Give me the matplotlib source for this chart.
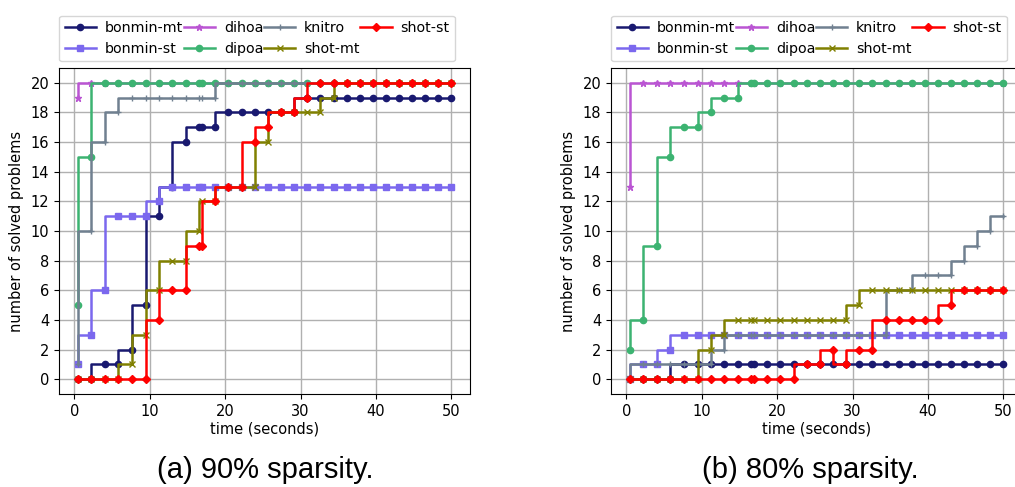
import matplotlib
matplotlib.use('Agg')
import matplotlib.pyplot as plt

# common time grid (seconds) where the solved counts are sampled
times = [0.45, 2.25, 4.05, 5.85, 7.65, 9.45, 11.2, 13.0, 14.8, 16.6, 16.95, 18.7,
         20.45, 22.2, 23.95, 25.7, 27.4, 29.15, 30.9, 32.65, 34.4, 36.1, 37.85,
         39.6, 41.35, 43.05, 44.8, 46.55, 48.3, 50.0]

solvers = ['bonmin-mt', 'bonmin-st', 'dihoa', 'dipoa', 'knitro', 'shot-mt', 'shot-st']

# 90% sparsity
s90_bonmin_mt = [0, 0, 1, 1, 2, 5, 11, 13, 16, 17, 17, 17, 18, 18, 18, 18, 18, 18, 19,
                 19, 19, 19, 19, 19, 19, 19, 19, 19, 19, 19]
s90_bonmin_st = [1, 3, 6, 11, 11, 11, 12] + [13] * 23
s90_dihoa = [19] + [20] * 29
s90_dipoa = [5, 15] + [20] * 28
s90_knitro = [1, 10, 16, 18, 19, 19, 19, 19, 19, 19, 19, 19] + [20] * 18
s90_shot_mt = [0, 0, 0, 0, 1, 3, 6, 8, 8, 10, 12, 12, 13, 13, 13, 16, 18, 18, 18, 18,
               19] + [20] * 9
s90_shot_st = [0, 0, 0, 0, 0, 0, 4, 6, 6, 9, 9, 12, 13, 13, 16, 17, 18, 18, 19] + [20] * 11

# 80% sparsity
s80_bonmin_mt = [0, 0, 0, 0] + [1] * 26
s80_bonmin_st = [0, 1, 1, 2] + [3] * 26
s80_dihoa = [13] + [20] * 29
s80_dipoa = [2, 4, 9, 15, 17, 17, 18, 19, 19] + [20] * 21
s80_knitro = [0, 1, 1, 1, 1, 1, 1, 2] + [3] * 13 + [6, 6, 7, 7, 7, 8, 9, 10, 11]
s80_shot_mt = [0, 0, 0, 0, 0, 0, 2, 3] + [4] * 10 + [5] + [6] * 11
s80_shot_st = [0] * 14 + [1, 1, 2, 1, 2, 2, 4, 4, 4, 4, 4, 5, 6, 6, 6, 6]

styles = {
    'bonmin-mt': dict(color='midnightblue', marker='o', ms=4.5),
    'bonmin-st': dict(color='mediumslateblue', marker='s', ms=4.5),
    'dihoa': dict(color='mediumorchid', marker='*', ms=4.5),
    'dipoa': dict(color='mediumseagreen', marker='o', ms=4.5),
    'knitro': dict(color='slategray', marker='+', ms=5),
    'shot-mt': dict(color='olive', marker='x', ms=4),
    'shot-st': dict(color='red', marker='D', ms=4.5),
}


def plotProfile(ax, series):
    for name, ys in zip(solvers, series):
        ax.plot(times, ys, drawstyle='steps-pre', linewidth=1.8, label=name, **styles[name])
    ax.set_xticks(range(0, 51, 10))
    ax.set_yticks(range(0, 21, 2))
    ax.set_ylim(-1, 21)
    ax.tick_params(labelsize=10.5)
    ax.set_xlabel('time (seconds)', fontsize=10.5, labelpad=2)
    ax.set_ylabel('number of solved problems', fontsize=10.5, labelpad=5)
    ax.grid(True, color='#b0b0b0', linewidth=1)
    ax.set_axisbelow(True)
    ax.legend(loc='lower left', bbox_to_anchor=(0, 1.02), borderaxespad=0, ncol=4,
              fontsize=10.3, columnspacing=0.05, handlelength=2.2, handletextpad=0.6,
              labelspacing=0.45, borderpad=0.4)


fig = plt.figure(figsize=(10.15, 4.87), dpi=100)
W, H = 1015, 487
axL = fig.add_axes([59 / W, 1 - 394 / H, 411 / W, 326 / H])
axR = fig.add_axes([611 / W, 1 - 394 / H, 411 / W, 326 / H])

plotProfile(axL, [s90_bonmin_mt, s90_bonmin_st, s90_dihoa, s90_dipoa, s90_knitro,
                  s90_shot_mt, s90_shot_st])
plotProfile(axR, [s80_bonmin_mt, s80_bonmin_st, s80_dihoa, s80_dipoa, s80_knitro,
                  s80_shot_mt, s80_shot_st])

fig.text(265 / W, 1 - 470 / H, '(a) 90% sparsity.', ha='center', va='center',
         fontsize=21, family='Liberation Sans')
fig.text(810 / W, 1 - 470 / H, '(b) 80% sparsity.', ha='center', va='center',
         fontsize=21, family='Liberation Sans')

fig.savefig('out.png', dpi=100)
